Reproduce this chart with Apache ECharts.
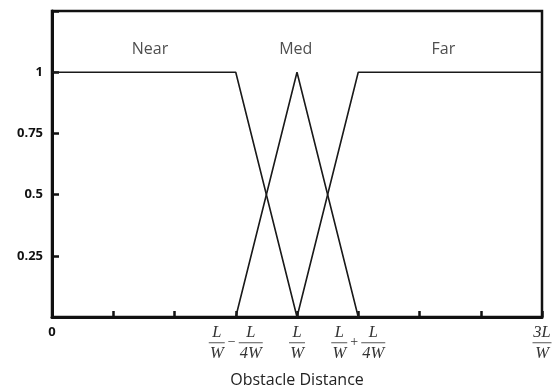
<!DOCTYPE html>
<html>
<head>
<meta charset="utf-8">
<script src="https://cdn.jsdelivr.net/npm/echarts@6/dist/echarts.min.js"></script>
<style>
  html, body { margin: 0; padding: 0; background: #fff; }
  #chart { width: 558px; height: 389px; }
</style>
</head>
<body>
<div id="chart"></div>
<script>
// Distance measured in quarters of L/W (4 units = L/W)
const xTicks = [0, 1, 2, 3, 4, 5, 6, 7, 8];
const yTicks = [0.25, 0.5, 0.75, 1];

// Membership functions (breakpoints)
const nearX = [0, 3, 4];
const nearY = [1, 1, 0];
const medX = [3, 4, 5];
const medY = [0, 1, 0];
const farX = [4, 5, 8];
const farY = [0, 1, 1];

// Set names and where their captions sit
const setNames = ['Near', 'Med', 'Far'];
const setNameX = [1.6, 3.98, 6.39];
const setNameY = [1.095, 1.095, 1.095];

const zip = (xs, ys) => xs.map((x, i) => [x, ys[i]]);

const serif = 'Liberation Serif';
const LH = 10.5;
const fracStyle = (w) => ({
  fontFamily: serif, fontStyle: 'italic', fontSize: 16.5, color: '#333',
  width: w, align: 'center', lineHeight: LH
});
const barStyle = (w) => ({
  width: w, height: 1, lineHeight: LH, backgroundColor: '#555', fontSize: 4
});

const xLabel = (v) => {
  if (v === 0) return '{zero|0}';
  if (v === 3) return '{n|L}{op| }{n4|L}\n{bar| }{op|\u2212}{bar4| }\n{n|W}{op| }{n4|4W}';
  if (v === 4) return '{n|L}\n{bar| }\n{n|W}';
  if (v === 5) return '{n|L}{op| }{n4|L}\n{bar| }{op|+}{bar4| }\n{n|W}{op| }{n4|4W}';
  if (v === 8) return '{n3|3L}\n{bar3| }\n{n3|W}';
  return '';
};

const chart = echarts.init(document.getElementById('chart'), null, { renderer: 'canvas' });

chart.setOption({
  animation: false,
  backgroundColor: '#fff',
  grid: {
    left: 52, top: 11, right: 16, bottom: 72,
    outerBoundsMode: 'none',
    containLabel: false,
    show: true, borderColor: '#111', borderWidth: 2.5
  },
  xAxis: {
    type: 'value',
    min: xTicks[0], max: xTicks[xTicks.length - 1], interval: 1,
    name: 'Obstacle Distance',
    nameLocation: 'middle',
    nameGap: 55,
    nameTextStyle: { fontFamily: 'Open Sans', fontSize: 16, color: '#222' },
    axisLine: { lineStyle: { color: '#111', width: 3 } },
    axisTick: { inside: true, length: 6, lineStyle: { color: '#111', width: 2.5 } },
    splitLine: { show: false },
    axisLabel: {
      interval: 0, margin: 10, showMinLabel: true, showMaxLabel: true,
      formatter: xLabel,
      rich: {
        zero: { fontFamily: 'Open Sans', fontWeight: 'bold', fontSize: 13, color: '#111', lineHeight: 10 },
        n: fracStyle(16),
        n4: fracStyle(24),
        n3: fracStyle(19),
        op: { fontFamily: serif, fontSize: 14, color: '#333', width: 14, align: 'center', lineHeight: LH },
        bar: barStyle(16),
        bar4: barStyle(24),
        bar3: barStyle(19)
      }
    }
  },
  yAxis: {
    type: 'value',
    min: 0, max: 1.25, interval: 0.25,
    axisLine: { show: true, lineStyle: { color: '#111', width: 3 } },
    axisTick: { show: true, inside: true, length: 7, lineStyle: { color: '#111', width: 2.5 } },
    splitLine: { show: false },
    axisLabel: {
      margin: 9,
      fontFamily: 'Open Sans', fontWeight: 'bold', fontSize: 13, color: '#111',
      formatter: (v) => (yTicks.indexOf(v) >= 0 ? String(v) : '')
    }
  },
  series: [
    { name: 'Near', type: 'line', data: zip(nearX, nearY), showSymbol: false,
      lineStyle: { color: '#1a1a1a', width: 1.6 } },
    { name: 'Med', type: 'line', data: zip(medX, medY), showSymbol: false,
      lineStyle: { color: '#1a1a1a', width: 1.6 } },
    { name: 'Far', type: 'line', data: zip(farX, farY), showSymbol: false,
      lineStyle: { color: '#1a1a1a', width: 1.6 } },
    {
      name: 'labels', type: 'scatter', symbolSize: 0, silent: true,
      data: setNames.map((s, i) => ({ value: [setNameX[i], setNameY[i]], name: s })),
      label: {
        show: true, position: 'inside', formatter: (p) => p.name,
        fontFamily: 'Open Sans', fontSize: 16, color: '#222'
      }
    }
  ]
});
</script>
</body>
</html>
